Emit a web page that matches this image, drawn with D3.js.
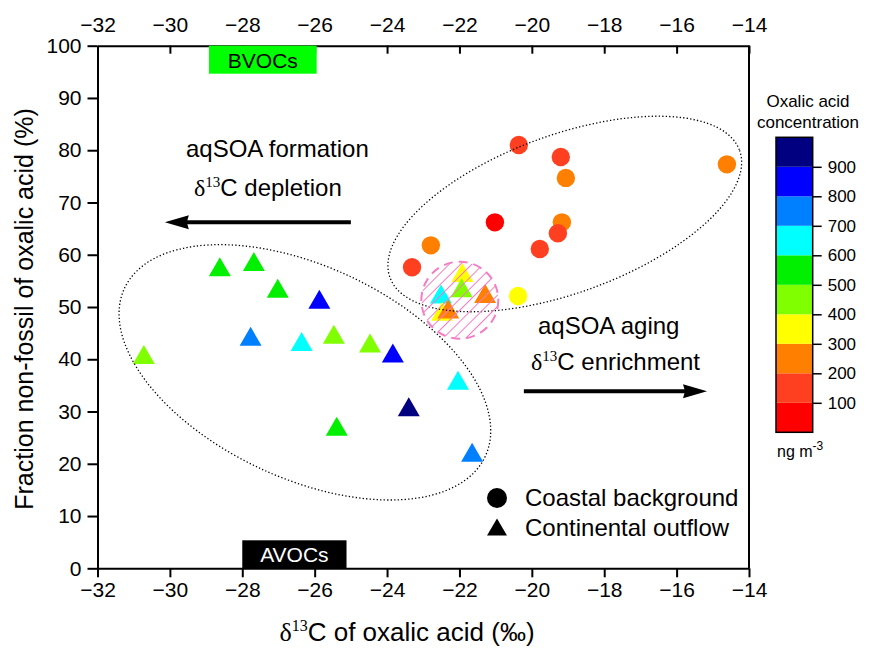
<!DOCTYPE html>
<html>
<head>
<meta charset="utf-8">
<script src="https://cdn.jsdelivr.net/npm/d3@7"></script>
<style>
  body { margin: 0; background: #fff; }
  text { font-family: "Liberation Sans", Arial, sans-serif; fill: #000; }
</style>
</head>
<body>
<div id="chart"></div>
<script>
// coastal background samples: d13C, fraction non-fossil, oxalic acid conc.
var coastalD13C = [-20.36, -19.20, -19.06, -14.61, -21.02, -19.17, -19.28, -19.78, -22.79, -23.31, -20.38];
var coastalFnf  = [81.0, 78.7, 74.7, 77.3, 66.2, 66.2, 64.1, 61.1, 61.8, 57.6, 52.1];
var coastalConc = [150, 150, 250, 250, 50, 250, 150, 150, 250, 150, 350];

// continental outflow samples
var outflowD13C = [-28.62, -27.68, -27.02, -25.87, -27.77, -26.36, -25.47, -30.72, -25.39, -24.47, -23.84, -22.04, -23.40, -21.65,
                   -21.92, -21.94, -22.51, -21.29, -22.48, -22.31];
var outflowFnf  = [57.7, 58.7, 53.6, 51.5, 44.4, 43.4, 44.8, 40.9, 27.2, 43.1, 41.2, 36.0, 30.9, 22.2,
                   56.6, 53.7, 52.5, 52.6, 49.2, 49.6];
var outflowConc = [550, 550, 550, 850, 750, 650, 450, 450, 550, 450, 850, 650, 950, 750,
                   350, 450, 650, 250, 350, 250];

var concBreaks = [100, 200, 300, 400, 500, 600, 700, 800, 900];
var concColors = ["#ff0000", "#ff4020", "#ff8000", "#ffff00", "#80ff00", "#00f000", "#00ffff", "#0080ff", "#0000ff", "#000080"];
var xTicks = [-32, -30, -28, -26, -24, -22, -20, -18, -16, -14];
var yTicks = [0, 10, 20, 30, 40, 50, 60, 70, 80, 90, 100];

var width = 873, height = 651;
var svg = d3.select("#chart").append("svg")
    .attr("width", width)
    .attr("height", height);

var x = d3.scaleLinear().domain([-32, -14]).range([97.5, 749]);
var y = d3.scaleLinear().domain([0, 100]).range([568.3, 45.7]);
var color = d3.scaleThreshold().domain(concBreaks).range(concColors);

// axes
var bottomAxis = svg.append("g")
    .attr("transform", "translate(0," + y(0) + ")")
    .call(d3.axisBottom(x).tickValues(xTicks).tickSize(9).tickSizeOuter(0).tickPadding(5));
var topAxis = svg.append("g")
    .attr("transform", "translate(0," + y(100) + ")")
    .call(d3.axisTop(x).tickValues(xTicks).tickSize(-8).tickSizeOuter(0).tickPadding(14));
var leftAxis = svg.append("g")
    .attr("transform", "translate(" + x(-32) + ",0)")
    .call(d3.axisLeft(y).tickValues(yTicks).tickSize(10).tickSizeOuter(0).tickPadding(6));
svg.append("line")
    .attr("x1", x(-14)).attr("x2", x(-14))
    .attr("y1", y(0)).attr("y2", y(100))
    .attr("stroke", "#000").attr("stroke-width", 2);

[bottomAxis, topAxis, leftAxis].forEach(function (g) {
    g.select(".domain").attr("stroke-width", 2);
    g.selectAll(".tick line").attr("stroke-width", 2);
    g.selectAll(".tick text").style("font-size", "21px")
        .style("font-family", "Liberation Sans, Arial, sans-serif");
});
topAxis.selectAll(".tick text").attr("y", -14);

// BVOCs / AVOCs tags
svg.append("rect").attr("x", x(-28.92)).attr("y", y(100)).attr("width", x(-26) - x(-28.92) + 2)
    .attr("height", 28).attr("fill", "#00ff00");
svg.append("text").attr("x", (x(-28.92) + x(-26) + 2) / 2).attr("y", y(100) + 22)
    .attr("text-anchor", "middle").style("font-size", "21px").text("BVOCs");
svg.append("rect").attr("x", x(-28)).attr("y", y(0) - 28).attr("width", x(-25.12) - x(-28))
    .attr("height", 28).attr("fill", "#000");
svg.append("text").attr("x", (x(-28) + x(-25.12)) / 2).attr("y", y(0) - 6)
    .attr("text-anchor", "middle").style("font-size", "21px").style("fill", "#fff").text("AVOCs");

// points
var coastal = coastalD13C.map(function (d, i) { return { x: d, y: coastalFnf[i], c: coastalConc[i] }; });
var outflow = outflowD13C.map(function (d, i) { return { x: d, y: outflowFnf[i], c: outflowConc[i] }; });

var triPath = "M0,-9.5L11,9.5L-11,9.5Z";

svg.append("g").selectAll("circle")
    .data(coastal)
    .enter().append("circle")
    .attr("cx", d => x(d.x))
    .attr("cy", d => y(d.y))
    .attr("r", 9.2)
    .attr("fill", d => color(d.c));

svg.append("g").selectAll("path")
    .data(outflow)
    .enter().append("path")
    .attr("d", triPath)
    .attr("transform", d => "translate(" + x(d.x) + "," + y(d.y) + ")")
    .attr("fill", d => color(d.c));

// dotted ellipses
var ellipses = [
    { cx: -19.09, cy: 67.8, rx: 186, ry: 79, angle: -20 },
    { cx: -26.27, cy: 37.5, rx: 199, ry: 106, angle: 25 }
];
svg.append("g").selectAll("ellipse")
    .data(ellipses)
    .enter().append("ellipse")
    .attr("transform", d => "translate(" + x(d.cx) + "," + y(d.cy) + ") rotate(" + d.angle + ")")
    .attr("rx", d => d.rx)
    .attr("ry", d => d.ry)
    .attr("fill", "none")
    .attr("stroke", "#000")
    .attr("stroke-width", 1.3)
    .attr("stroke-dasharray", "1.3,2.2");

// hatched circle
var defs = svg.append("defs");
defs.append("pattern")
    .attr("id", "hatch")
    .attr("patternUnits", "userSpaceOnUse")
    .attr("width", 8).attr("height", 8)
    .attr("patternTransform", "rotate(45)")
    .append("line")
    .attr("x1", 0).attr("y1", 0).attr("x2", 0).attr("y2", 8)
    .attr("stroke", "#f47ec4").attr("stroke-width", 2);
svg.append("circle")
    .attr("cx", x(-21.99)).attr("cy", y(51.3)).attr("r", 38.5)
    .attr("fill", "url(#hatch)")
    .attr("stroke", "#f47ec4").attr("stroke-width", 2)
    .attr("stroke-dasharray", "9,6");

// arrows
var arrows = [
    { x1: -25.0, x2: -30.14, y: 66.2 },
    { x1: -20.22, x2: -15.16, y: 33.9 }
];
arrows.forEach(function (a) {
    var dir = a.x2 > a.x1 ? 1 : -1;
    var tip = x(a.x2), yy = y(a.y);
    svg.append("line")
        .attr("x1", x(a.x1)).attr("x2", tip - dir * 18)
        .attr("y1", yy).attr("y2", yy)
        .attr("stroke", "#000").attr("stroke-width", 4);
    svg.append("path")
        .attr("d", "M" + tip + "," + yy + "L" + (tip - dir * 24) + "," + (yy - 7) +
            "L" + (tip - dir * 22) + "," + yy + "L" + (tip - dir * 24) + "," + (yy + 7) + "Z")
        .attr("fill", "#000");
});

// annotation texts
function deltaText(tx, ty, rest) {
    var t = svg.append("text").attr("x", tx).attr("y", ty).style("font-size", "24px");
    t.append("tspan").style("font-family", "Liberation Serif, Times New Roman, serif").text("δ");
    t.append("tspan").style("font-family", "Liberation Serif, Times New Roman, serif")
        .style("font-size", "15px").attr("dy", -9).text("13");
    t.append("tspan").attr("dy", 9).text(rest);
    return t;
}
svg.append("text").attr("x", 186).attr("y", 157).style("font-size", "24px").text("aqSOA formation");
deltaText(194, 196, "C depletion");
svg.append("text").attr("x", 538).attr("y", 334).style("font-size", "24px").text("aqSOA aging");
deltaText(531, 370, "C enrichment");

// legend
svg.append("circle").attr("cx", 497).attr("cy", 498).attr("r", 10).attr("fill", "#000");
svg.append("text").attr("x", 525).attr("y", 506).style("font-size", "24px").text("Coastal background");
svg.append("path").attr("d", "M0,-8.5L10,8.5L-10,8.5Z").attr("transform", "translate(497,527)").attr("fill", "#000");
svg.append("text").attr("x", 525).attr("y", 536).style("font-size", "24px").text("Continental outflow");

// axis titles
var xt = svg.append("text").attr("x", 407).attr("y", 641).attr("text-anchor", "middle").style("font-size", "26px");
xt.append("tspan").style("font-family", "Liberation Serif, Times New Roman, serif").text("δ");
xt.append("tspan").style("font-family", "Liberation Serif, Times New Roman, serif")
    .style("font-size", "16px").attr("dy", -10).text("13");
xt.append("tspan").attr("dy", 10).text("C of oxalic acid (‰)");

svg.append("text")
    .attr("transform", "translate(33,309) rotate(-90)")
    .attr("text-anchor", "middle")
    .style("font-size", "25px")
    .text("Fraction non-fossil of oxalic acid (%)");

// colour bar
var cbTop = 137.3, cbBottom = 432.3, cbLeft = 776, cbWidth = 36.7;
var cb = d3.scaleLinear().domain([0, 1000]).range([cbBottom, cbTop]);
var bins = concColors.map(function (c, i) { return { lo: i * 100, hi: (i + 1) * 100, c: c }; });
svg.append("g").selectAll("rect")
    .data(bins)
    .enter().append("rect")
    .attr("x", cbLeft)
    .attr("y", d => cb(d.hi))
    .attr("width", cbWidth)
    .attr("height", d => cb(d.lo) - cb(d.hi))
    .attr("fill", d => d.c);
svg.append("rect")
    .attr("x", cbLeft).attr("y", cbTop).attr("width", cbWidth).attr("height", cbBottom - cbTop)
    .attr("fill", "none").attr("stroke", "#000").attr("stroke-width", 1.5);
var cbAxis = svg.append("g")
    .attr("transform", "translate(" + (cbLeft + cbWidth) + ",0)")
    .call(d3.axisRight(cb).tickValues(concBreaks).tickSize(9).tickPadding(6));
cbAxis.select(".domain").remove();
cbAxis.selectAll(".tick line").attr("stroke-width", 1.5);
cbAxis.selectAll(".tick text").style("font-size", "17px")
    .style("font-family", "Liberation Sans, Arial, sans-serif");

svg.append("text").attr("x", 808).attr("y", 107).attr("text-anchor", "middle")
    .style("font-size", "17px").text("Oxalic acid");
svg.append("text").attr("x", 808).attr("y", 128).attr("text-anchor", "middle")
    .style("font-size", "17px").text("concentration");
var unit = svg.append("text").attr("x", 777).attr("y", 457).style("font-size", "16px");
unit.append("tspan").text("ng m");
unit.append("tspan").attr("dy", -7).style("font-size", "12px").text("-3");
</script>
</body>
</html>
